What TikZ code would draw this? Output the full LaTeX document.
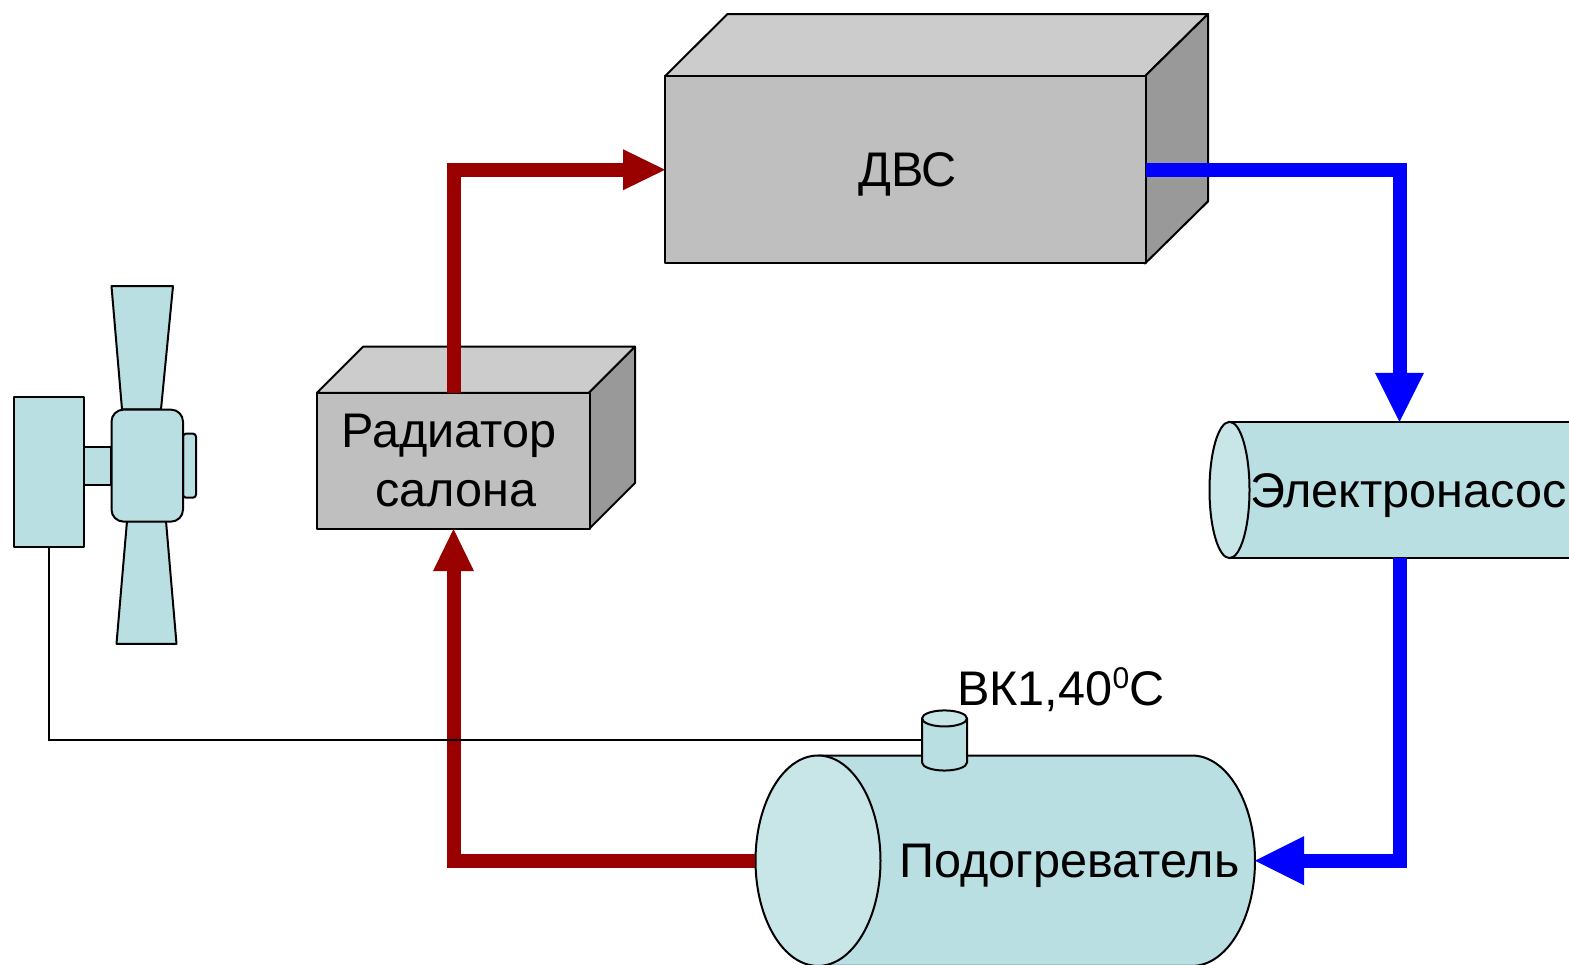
\documentclass[tikz,border=0pt]{standalone}
\usepackage{fontspec}
\setmainfont{Liberation Sans}
\usetikzlibrary{arrows.meta}
\definecolor{teal1}{HTML}{BADFE3}
\definecolor{teal2}{HTML}{C8E5E8}
\definecolor{redpipe}{HTML}{990000}
\definecolor{bluepipe}{HTML}{0000FF}
\tikzset{
  x=1pt,y=-1.002pt,
  outl/.style={draw=black,line width=2pt,line join=round},
  front/.style={outl,fill=black!25,inner sep=0pt,outer sep=0pt,anchor=north west},
  topface/.style={outl,fill=black!20},
  sideface/.style={outl,fill=black!40},
  part/.style={outl,fill=teal1},
  endcap/.style={outl,fill=teal2},
  partnode/.style={outl,fill=teal1,inner sep=0pt,outer sep=0pt,anchor=north west},
  lbl/.style={font=\fontsize{48.6}{56}\selectfont,inner sep=0pt,text=black},
  wire/.style={draw=black,line width=2pt},
  hot/.style={draw=redpipe,line width=14pt,line join=miter},
  cold/.style={draw=bluepipe,line width=14pt,line join=miter},
  hothead/.style={-{Triangle[length=42pt,width=41pt,line width=0pt,fill=redpipe]}},
  coldhead/.style={-{Triangle[length=49pt,width=49pt,line width=0pt,fill=bluepipe]}},
}
\begin{document}
\begin{tikzpicture}
\useasboundingbox (0,0) rectangle (1569,963.07);
% DVS
\draw[topface] (665,76) -- (727.5,14) -- (1208,14) -- (1145,76) -- cycle;
\draw[sideface] (1145,76) -- (1208,14) -- (1208,201) -- (1145,263) -- cycle;
\node[front,minimum width=480.5pt,minimum height=187pt] (dvs) at (665,76.1) {};
\node[lbl] (dvslabel) at (907.5,174) {ДВС};
% radiator
\draw[topface] (317,392) -- (363,346) -- (635,346) -- (589,392) -- cycle;
\draw[sideface] (589,392) -- (635,346) -- (635,482) -- (589,528) -- cycle;
\node[front,minimum width=272.5pt,minimum height=136pt] (rad) at (317,391.8) {};
\coordinate (radtop) at (453.5,392);
\coordinate (radbot) at (453.5,528);
% pump (runs off the right edge)
\begin{scope}
\clip (0,0) rectangle (1569,965);
\draw[part] (1229.5,421) -- (1600,421) -- (1600,557) -- (1229.5,557) -- cycle;
\draw[endcap] (1229.5,489) ellipse [x radius=20,y radius=68];
\coordinate (pumptop) at (1399.5,421);
\coordinate (pumpbot) at (1399.5,557);
% heater
\draw[part] (818,754) -- (1192,754) arc [start angle=-90,end angle=90,x radius=63,y radius=105] -- (818,964) -- cycle;
\draw[endcap] (818,859) ellipse [x radius=62.5,y radius=105];
\end{scope}
\coordinate (heatleft) at (755,859);
\coordinate (heatright) at (1255,859);
% sensor
\draw[part] (922,717) -- (922,761) arc [start angle=180,end angle=360,x radius=22.5,y radius=-8] -- (967,717) -- cycle;
\draw[endcap] (944.5,717) ellipse [x radius=22.5,y radius=8];
\coordinate (senswire) at (922,739);
% fan
\draw[part] (111.5,285.6) -- (173,285.6) -- (161,408.5) -- (122,408.5) -- cycle;
\draw[part] (127,520) -- (166,520) -- (176.5,642.5) -- (116.5,642.5) -- cycle;
\node[partnode,minimum width=27pt,minimum height=38pt] (shaft) at (84,445.8) {};
\node[partnode,rounded corners=3pt,minimum width=13pt,minimum height=64pt] (cap) at (183,432.8) {};
\node[partnode,rounded corners=12pt,minimum width=71.5pt,minimum height=112pt] (hub) at (111.5,408.8) {};
\node[partnode,minimum width=70pt,minimum height=150pt] (motor) at (14.3,395.8) {};
% pipes
\draw[hot,hothead] (radtop) |- (dvs.west);
\draw[hot,hothead] (heatleft) -| (radbot);
\draw[cold,coldhead] (dvs.east) -| (pumptop);
\draw[cold,coldhead] (pumpbot) |- (heatright);
% wire
\draw[wire] (motor.south) |- (senswire);
% labels
\node[lbl] (radlabel1) at (449,435) {Радиатор};
\node[lbl] (radlabel2) at (456,492.5) {салона};
\node[lbl] (pumplabel) at (1408.5,494.5) {Электронасос};
\node[lbl] (heatlabel) at (1069.5,864.5) {Подогреватель};
\node[lbl,anchor=base west] (sensorlabel) at (957,704.3) {ВК1,40\raisebox{0.36em}{\fontsize{30}{36}\selectfont 0}С};
\end{tikzpicture}
\end{document}
